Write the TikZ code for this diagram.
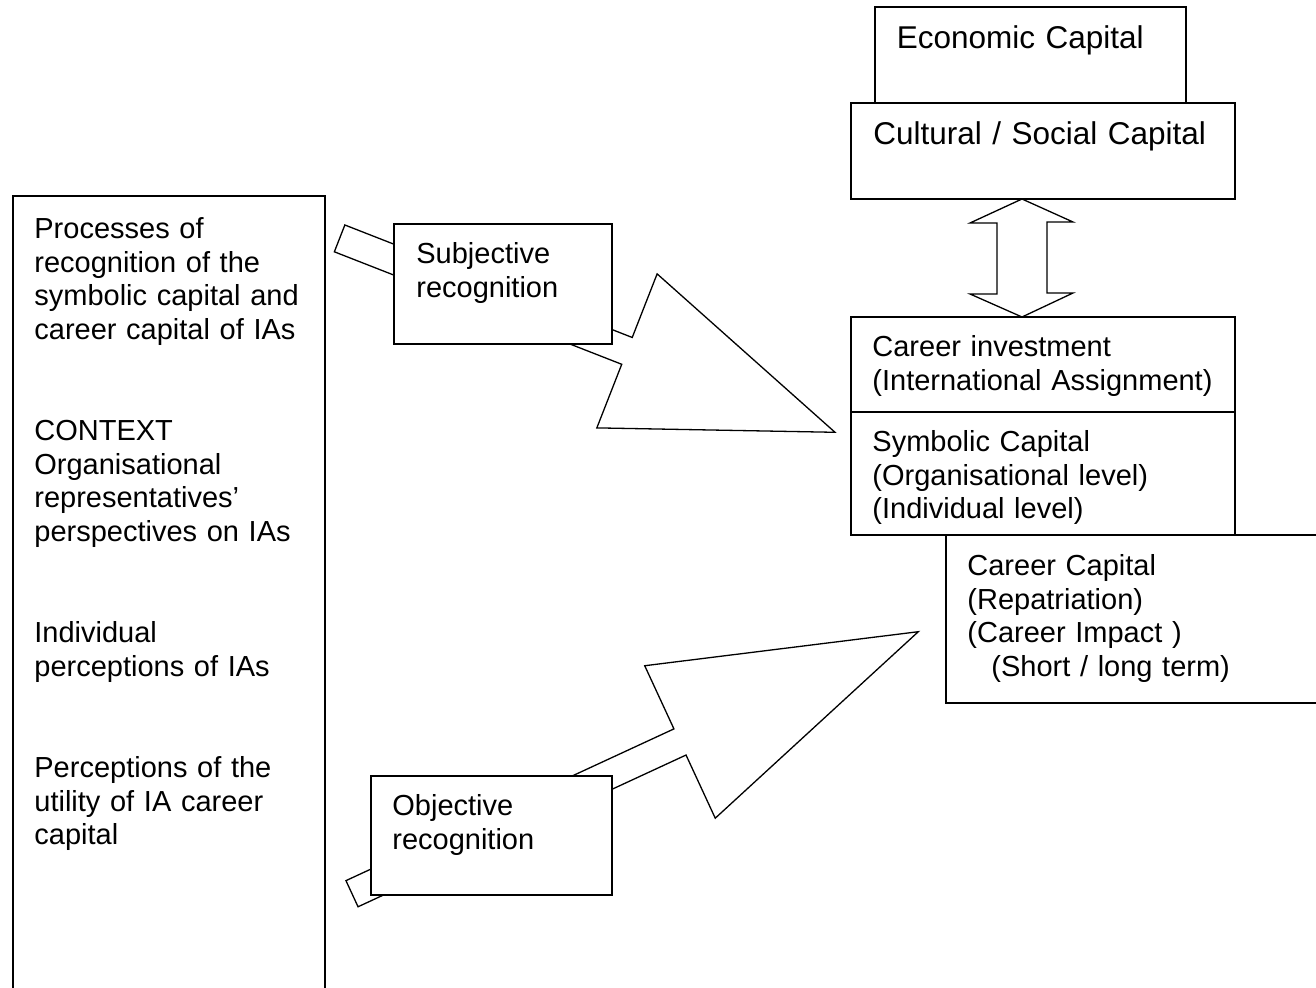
\documentclass[tikz,border=0pt]{standalone}
\usepackage{fontspec}
\setmainfont{Liberation Sans}
\usetikzlibrary{calc}

\tikzset{
  capbox/.style={draw, line width=1pt, fill=white, inner sep=0pt, outer sep=0pt, anchor=north west},
  captext/.style={inner sep=0pt, anchor=north west, align=left, text width=200pt,
    font=\fontsize{14.5}{16.85}\selectfont},
  bigtext/.style={captext, font=\fontsize{15.75}{18}\selectfont},
  bigarrow/.style={draw, line width=0.65pt, fill=white, line join=miter}
}

% block arrow: tail, tip, half shaft, half head, head length
\newcommand{\blockarrow}[5]{%
  \coordinate (neck) at ($(#2)!#5!(#1)$);
  \draw[bigarrow] ($(#1)!#3!90:(#2)$) -- ($(neck)!#3!90:(#2)$) -- ($(neck)!#4!90:(#2)$) -- (#2)
    -- ($(neck)!#4!-90:(#2)$) -- ($(neck)!#3!-90:(#2)$) -- ($(#1)!#3!-90:(#2)$) -- cycle;
}

\begin{document}
\begin{tikzpicture}[x=0.5pt, y=-0.5pt]
    \useasboundingbox (0,0) rectangle (1316,988);
    \clip (0,0) rectangle (1316,988);

    % left column
    \node[capbox, minimum width=156pt, minimum height=410pt] (context) at (13,196) {};
    \node[captext] (contexttext) at (34,217) {Processes of\\recognition of the\\symbolic capital and\\career capital of IAs\\[33.7pt]
        CONTEXT\\Organisational\\representatives’\\perspectives on IAs\\[33.7pt]
        Individual\\perceptions of IAs\\[33.7pt]
        Perceptions of the\\utility of IA career\\capital};

    % block arrows
    \coordinate (subjtail) at (339.6,238.4);
    \coordinate (subjtip) at (835,432.3);
    \blockarrow{subjtail}{subjtip}{7.2pt}{41.35pt}{111.7pt}
    \coordinate (objtail) at (352,893.7);
    \coordinate (objtip) at (918.3,631.7);
    \blockarrow{objtail}{objtip}{7.2pt}{42pt}{131.3pt}

    \node[capbox, minimum width=108.85pt, minimum height=60pt] (subj) at (394,224) {};
    \node[captext] (subjtext) at (416,242) {Subjective\\recognition};
    \node[capbox, minimum width=120.5pt, minimum height=59.8pt] (obj) at (370.7,775.7) {};
    \node[captext] (objtext) at (392,794) {Objective\\recognition};

    % right column
    \node[capbox, minimum width=155.5pt, minimum height=48pt] (econ) at (875,7) {};
    \node[bigtext] (econtext) at (896.5,25) {Economic Capital};
    \node[capbox, minimum width=192pt, minimum height=48pt] (cult) at (851,103) {};
    \node[bigtext] (culttext) at (873,121) {Cultural / Social Capital};

    \node[capbox, minimum width=192pt, minimum height=47.5pt] (invest) at (851,317) {};
    \node[captext] (investtext) at (872,335) {Career investment\\(International Assignment)};
    \node[capbox, minimum width=192pt, minimum height=61.5pt] (symb) at (851,412) {};
    \node[captext] (symbtext) at (872,430) {Symbolic Capital\\(Organisational level)\\(Individual level)};
    \node[capbox, minimum width=200pt, minimum height=84pt] (carcap) at (946,535) {};
    \node[captext] (carcaptext) at (967,554) {Career Capital\\(Repatriation)\\(Career Impact )\\\hspace*{12pt}(Short / long term)};

    % double arrow
    \coordinate (dtop) at ([xshift=-10.5pt]cult.south);
    \coordinate (dbot) at ([xshift=-10.5pt]invest.north);
    \draw[bigarrow] (dtop) -- ++(51,23) -- ++(-26,0) -- ++(0,71) -- ++(26,0) -- (dbot)
        -- ++(-52,-23) -- ++(27,0) -- ++(0,-71) -- ++(-27,0) -- cycle;
\end{tikzpicture}
\end{document}
